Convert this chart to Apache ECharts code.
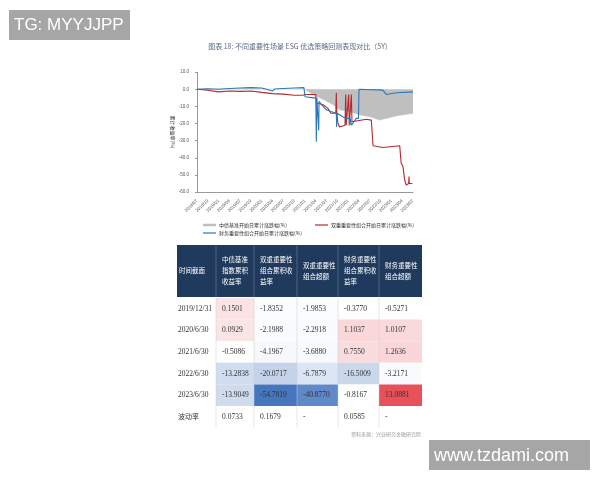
<!DOCTYPE html>
<html><head><meta charset="utf-8">
<script src="https://cdn.jsdelivr.net/npm/echarts@6/dist/echarts.min.js"></script>
<style>html,body{margin:0;padding:0;background:#fff}#c{width:600px;height:480px}</style>
</head><body><div id="c"></div>
<script>
// x positions are quarter indices (0 = 2018/07)
const xLabels = ['2018/07','2018/10','2019/01','2019/04','2019/07','2019/10','2020/01','2020/04','2020/07','2020/10','2021/01','2021/04','2021/07','2021/10','2022/01','2022/04','2022/07','2022/10','2023/01','2023/04','2023/07'];
const yTicks = [10,0,-10,-20,-30,-40,-50,-60];
const benchX = [0,2,4,6,8,10.0,10.7,11.7,12.6,13.2,14.1,15.1,16.0,16.9,17.5,18.5,20];
const benchY = [0,0.2,0.3,0.2,0.1,0,-3,-6,-9,-12,-13,-15,-16,-18,-17,-15.5,-14];
const dualX = [0,1,2,3,4,5,6,7,8,9,9.8,10.0,10.4,11.0,11.05,11.67,12.1,12.4,12.85,12.9,12.95,13.06,13.2,13.7,13.77,13.82,13.95,14.04,14.1,14.22,14.29,14.35,14.44,15.68,16.14,16.3,17.2,18.77,18.9,19.07,19.23,19.38,19.6,19.63,19.66,19.94];
const dualY = [0,-0.5,-1.5,-1,-1.2,-1,-1.8,-2.5,-2.8,-3.5,-3.5,-3,-3,-3,-8,-9,-11,-14,-14,-2,-15,-20,-22,-21,-3,-21,-21,-3,-21,-21,-3,-19,-18,-17.5,-18,-33,-34,-33,-43,-45,-53,-56,-55,-51,-55,-55];
const finX = [0,1,2,3,4,5,6,7,7.2,8,9,9.9,10.0,10.8,11.0,11.05,11.1,11.25,11.27,11.3,11.36,11.67,11.98,12.4,12.9,12.93,12.96,13.5,13.83,14.1,14.14,14.2,14.3,14.75,14.95,15.0,17.2,17.53,18.46,20];
const finY = [0,0.3,0,0.5,0.8,1,0.8,-1,0.2,0.5,0.8,1,-4.3,-5,-5,-30.7,-5,-6,-24,-7,-8,-10,-12,-13,-14,-22,-14,-16,-17,-17,-21,-17,-21,-17,-17,0,-0.5,-3,-2,-1.5];
const legendNames = ['中债基准开始日累计涨跌幅(%)','双重重要性组合开始日累计涨跌幅(%)','财务重要性组合开始日累计涨跌幅(%)'];
const tableHeader = ['时间截面','中债基准\n指数累积\n收益率','双重重要性\n组合累积收\n益率','双重重要性\n组合超额','财务重要性\n组合累积收\n益率','财务重要性\n组合超额'];
const rowLabels = ['2019/12/31','2020/6/30','2021/6/30','2022/6/30','2023/6/30','波动率'];
const colBench = [0.1501,0.0929,-0.5086,-13.2838,-13.9049,0.0733];
const colDual = [-1.8352,-2.1988,-4.1967,-20.0717,-54.7819,0.1679];
const colDualEx = [-1.9853,-2.2918,-3.6880,-6.7879,-40.8770,null];
const colFin = [-0.3770,1.1037,0.7550,-16.5009,-0.8167,0.0585];
const colFinEx = [-0.5271,1.0107,1.2636,-3.2171,13.0881,null];

const zip=(a,b)=>a.map((v,i)=>[v,b[i]]);
const colsX=[177,216,254,297,338,379,422];
const headTop=245, headH=52, rowH=21.6;
const cols=[colBench,colDual,colDualEx,colFin,colFinEx];
function mix(c,t){const w=[255,255,255];return 'rgb('+c.map((v,i)=>Math.round(w[i]+(v-w[i])*t)).join(',')+')';}
function cellColor(v,r){
  if(v==null||r===5) return '#ffffff';
  if(v<0){const a=Math.abs(v); if(a<5) return mix([220,228,242],a/5*0.3); return mix([70,118,190],a<25?0.12+a/25*0.25:0.45+(a/54.8)*0.55);}
  const t=v/13.09; return mix([232,80,90],0.15+t*0.85);
}
const g=[];
g.push({type:'rect',shape:{x:9,y:10,width:121,height:30},style:{fill:'#a6a6a6'}});
g.push({type:'text',style:{x:14,y:25,text:'TG: MYYJJPP',fill:'#fff',font:'17px "Liberation Sans"',verticalAlign:'middle'}});
g.push({type:'rect',shape:{x:429,y:440,width:161,height:30},style:{fill:'#a6a6a6'}});
g.push({type:'text',style:{x:434,y:456,text:'www.tzdami.com',fill:'#fff',font:'18px "Liberation Sans"',verticalAlign:'middle'}});
g.push({type:'text',style:{x:300,y:46,text:'图表 18: 不同重要性场景 ESG 优选策略回测表现对比（5Y）',fill:'#5a6b85',font:'7px "Noto Sans CJK SC"',align:'center',verticalAlign:'middle'}});
g.push({type:'text',rotation:-Math.PI/2,x:173,y:132,style:{x:0,y:0,text:'累计收益率(%)',fill:'#333',font:'5px "Noto Sans CJK SC"',align:'center',verticalAlign:'middle'}});
// legend
const lg=[[203,225,'#bfbfbf',0],[315,225,'#b22a2e',1],[203,233,'#2a78b5',2]];
lg.forEach(([x,y,c,i])=>{g.push({type:'line',shape:{x1:x,y1:y,x2:x+13,y2:y},style:{stroke:c,lineWidth:i===0?2.5:1.2}});
 g.push({type:'text',style:{x:x+16,y:y,text:legendNames[i],fill:'#333',font:'5px "Noto Sans CJK SC"',verticalAlign:'middle'}});});
// table
g.push({type:'rect',shape:{x:colsX[0],y:headTop,width:colsX[6]-colsX[0],height:headH},style:{fill:'#1f3a5c'}});
tableHeader.forEach((h,i)=>{g.push({type:'text',style:{x:colsX[i]+(i===0?2:6),y:headTop+headH/2,text:h,fill:'#fff',font:'6.5px "Noto Sans CJK SC"',lineHeight:11,verticalAlign:'middle'}});
 if(i>0) g.push({type:'line',shape:{x1:colsX[i],y1:headTop,x2:colsX[i],y2:headTop+headH},style:{stroke:'#8090a8',lineWidth:0.5}});});
rowLabels.forEach((r,ri)=>{const y=headTop+headH+1+ri*rowH;
 g.push({type:'text',style:{x:colsX[0]+1,y:y+rowH/2,text:r,fill:'#333',font:(ri===5?'7px "Noto Sans CJK SC"':'7.5px "Liberation Serif"'),verticalAlign:'middle'}});
 cols.forEach((col,ci)=>{const v=col[ri];
  g.push({type:'rect',shape:{x:colsX[ci+1],y:y,width:colsX[ci+2]-colsX[ci+1],height:rowH},style:{fill:cellColor(v,ri)}});
  g.push({type:'text',style:{x:colsX[ci+1]+6,y:y+rowH/2,text:v==null?'-':v.toFixed(4),fill:'#333',font:'7.5px "Liberation Serif"',verticalAlign:'middle'}});});
});
for(let i=1;i<6;i++) g.push({type:'line',shape:{x1:colsX[i],y1:headTop+headH,x2:colsX[i],y2:headTop+headH+1+6*rowH},style:{stroke:'#cfcfcf',lineWidth:0.5}});
g.push({type:'text',style:{x:421,y:434,text:'资料来源：兴业研究金融研究院',fill:'#999',font:'5px "Noto Sans CJK SC"',align:'right',verticalAlign:'middle'}});

const chart=echarts.init(document.getElementById('c'),null,{renderer:'canvas'});
chart.setOption({
  animation:false, backgroundColor:'#fff',
  grid:{left:197,right:187,top:72.2,bottom:288,containLabel:false},
  xAxis:{type:'value',min:0,max:20,interval:1,axisLine:{onZero:false,lineStyle:{color:'#999'}},axisTick:{show:false},splitLine:{show:false},
    axisLabel:{rotate:45,fontSize:4.5,color:'#555',formatter:v=>xLabels[v]||''}},
  yAxis:{type:'value',min:-60,max:10,interval:10,axisLine:{show:true,lineStyle:{color:'#999'}},axisTick:{show:true,length:2},splitLine:{show:false},
    axisLabel:{fontSize:4.5,color:'#555',formatter:v=>v.toFixed(1)}},
  series:[
    {type:'line',data:zip(benchX,benchY),symbol:'none',lineStyle:{width:0.5,color:'#bfbfbf'},areaStyle:{color:'#bfbfbf',opacity:1,origin:0}},
    {type:'line',data:zip(dualX,dualY),symbol:'none',lineStyle:{width:1.1,color:'#b22a2e'}},
    {type:'line',data:zip(finX,finY),symbol:'none',lineStyle:{width:1.1,color:'#2a78b5'}}
  ],
  graphic:g
});
</script></body></html>
